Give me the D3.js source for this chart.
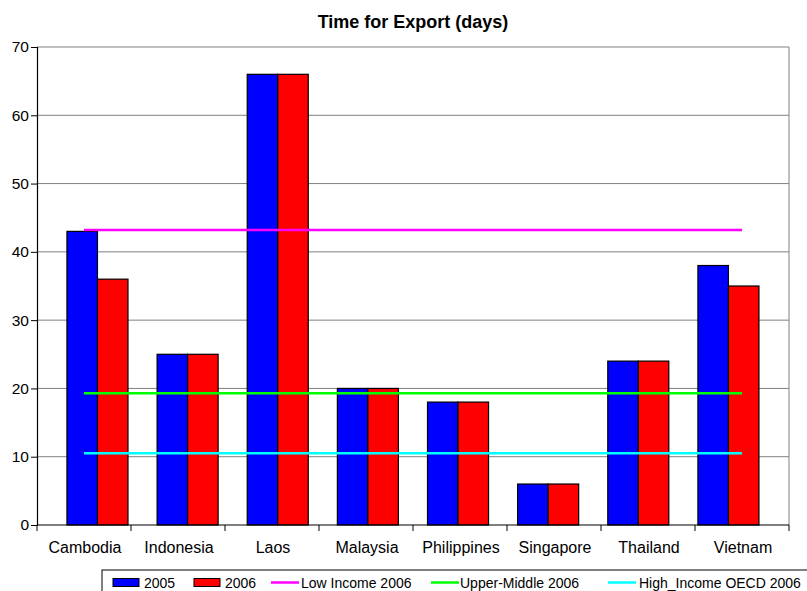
<!DOCTYPE html>
<html>
<head>
<meta charset="utf-8">
<script src="https://cdn.jsdelivr.net/npm/d3@7"></script>
<style>
  body { margin: 0; background: #fff; }
  svg { font-family: "Liberation Sans", Arial, sans-serif; }
</style>
</head>
<body>
<script>
// categories and values
var countries = ["Cambodia", "Indonesia", "Laos", "Malaysia", "Philippines", "Singapore", "Thailand", "Vietnam"];
var days2005 = [43, 25, 66, 20, 18, 6, 24, 38];
var days2006 = [36, 25, 66, 20, 18, 6, 24, 35];
var lowIncome2006 = 43.2;
var upperMiddle2006 = 19.3;
var highIncomeOECD2006 = 10.5;
var yTicks = [0, 10, 20, 30, 40, 50, 60, 70];

var W = 807, H = 591;
var plot = { left: 37, right: 789, top: 47, bottom: 525 };

var svg = d3.select("body").append("svg")
  .attr("width", W)
  .attr("height", H);

//category axis (labels, ticks, reference lines)
var x = d3.scaleBand()
  .domain(countries)
  .range([plot.left, plot.right])
  .padding(0);

//bars sit on a slightly narrower pitch than the category axis in the original
var xBars = d3.scaleBand()
  .domain(countries)
  .range([52.4, 773.5])
  .paddingInner(0.323)
  .paddingOuter(0.1615);

var series = d3.scaleBand()
  .domain(["2005", "2006"])
  .range([0, xBars.bandwidth()])
  .padding(0);

var y = d3.scaleLinear()
  .domain([0, 70])
  .range([plot.bottom, plot.top]);

//title
svg.append("text")
  .attr("x", 413)
  .attr("y", 28)
  .attr("text-anchor", "middle")
  .style("font-size", "18px")
  .style("font-weight", "bold")
  .text("Time for Export (days)");

//gridlines
svg.append("g")
  .selectAll("line")
  .data(yTicks.slice(1))
  .enter().append("line")
  .attr("x1", plot.left)
  .attr("x2", plot.right)
  .attr("y1", function(d){ return y(d); })
  .attr("y2", function(d){ return y(d); })
  .attr("stroke", "#808080")
  .attr("stroke-width", 1);

//right border of plot area
svg.append("line")
  .attr("x1", plot.right).attr("x2", plot.right)
  .attr("y1", plot.top).attr("y2", plot.bottom)
  .attr("stroke", "#808080");

//bars
var groups = svg.append("g")
  .selectAll("g")
  .data(countries)
  .enter().append("g")
  .attr("transform", function(d){ return "translate(" + xBars(d) + ",0)"; });

groups.append("rect")
  .attr("x", series("2005"))
  .attr("width", series.bandwidth())
  .attr("y", function(d, i){ return y(days2005[i]); })
  .attr("height", function(d, i){ return y(0) - y(days2005[i]); })
  .attr("fill", "#0000ff")
  .attr("stroke", "#000")
  .attr("stroke-width", 1.2);

groups.append("rect")
  .attr("x", series("2006"))
  .attr("width", series.bandwidth())
  .attr("y", function(d, i){ return y(days2006[i]); })
  .attr("height", function(d, i){ return y(0) - y(days2006[i]); })
  .attr("fill", "#ff0000")
  .attr("stroke", "#000")
  .attr("stroke-width", 1.2);

//reference lines, from first category centre to last
var refLines = [
  { value: lowIncome2006, color: "#ff00ff" },
  { value: upperMiddle2006, color: "#00ff00" },
  { value: highIncomeOECD2006, color: "#00ffff" }
];
var xFirst = x(countries[0]) + x.bandwidth() / 2;
var xLast = x(countries[countries.length - 1]) + x.bandwidth() / 2;
svg.append("g")
  .selectAll("line")
  .data(refLines)
  .enter().append("line")
  .attr("x1", xFirst)
  .attr("x2", xLast)
  .attr("y1", function(d){ return y(d.value); })
  .attr("y2", function(d){ return y(d.value); })
  .attr("stroke", function(d){ return d.color; })
  .attr("stroke-width", 2.5);

//y axis
var yAxis = svg.append("g")
  .attr("transform", "translate(" + plot.left + ",0)")
  .call(d3.axisLeft(y).tickValues(yTicks).tickSize(6).tickPadding(2));
yAxis.select(".domain").attr("stroke", "#000").attr("stroke-width", 1.2);
yAxis.selectAll(".tick line").attr("stroke", "#000");
yAxis.selectAll("text")
  .style("font-size", "15.5px")
  .style("font-family", "Liberation Sans, Arial, sans-serif")
  .attr("fill", "#000");

//x axis, ticks between categories
var xAxis = svg.append("g")
  .attr("transform", "translate(0," + plot.bottom + ")");
xAxis.append("line")
  .attr("x1", plot.left).attr("x2", plot.right)
  .attr("stroke", "#000").attr("stroke-width", 1.2);
xAxis.selectAll("line.tick")
  .data(countries.concat([null]))
  .enter().append("line")
  .classed("tick", true)
  .attr("x1", function(d){ return d === null ? plot.right : x(d); })
  .attr("x2", function(d){ return d === null ? plot.right : x(d); })
  .attr("y1", 0).attr("y2", 6)
  .attr("stroke", "#000");
xAxis.selectAll("text")
  .data(countries)
  .enter().append("text")
  .attr("x", function(d){ return x(d) + x.bandwidth() / 2 + 1; })
  .attr("y", 28)
  .attr("text-anchor", "middle")
  .style("font-size", "16px")
  .text(function(d){ return d; });

//legend
var legend = svg.append("g").attr("transform", "translate(102,570)");
legend.append("rect")
  .attr("x", 0).attr("y", 0)
  .attr("width", 720).attr("height", 40)
  .attr("fill", "#fff")
  .attr("stroke", "#000")
  .attr("stroke-width", 1);

var legendItems = [
  { label: "2005", kind: "box", color: "#0000ff", x: 11, tx: 42 },
  { label: "2006", kind: "box", color: "#ff0000", x: 92, tx: 123 },
  { label: "Low Income 2006", kind: "line", color: "#ff00ff", x: 169, tx: 199 },
  { label: "Upper-Middle 2006", kind: "line", color: "#00ff00", x: 329, tx: 358 },
  { label: "High_Income OECD 2006", kind: "line", color: "#00ffff", x: 506, tx: 537 }
];
legendItems.forEach(function(d){
  if(d.kind === "box"){
    legend.append("rect")
      .attr("x", d.x).attr("y", 8.5)
      .attr("width", 26).attr("height", 8)
      .attr("fill", d.color)
      .attr("stroke", "#000");
  }else{
    legend.append("line")
      .attr("x1", d.x).attr("x2", d.x + 28)
      .attr("y1", 12.5).attr("y2", 12.5)
      .attr("stroke", d.color)
      .attr("stroke-width", 2.5);
  }
  legend.append("text")
    .attr("x", d.tx)
    .attr("y", 18)
    .style("font-size", "14px")
    .text(d.label);
});
</script>
</body>
</html>
